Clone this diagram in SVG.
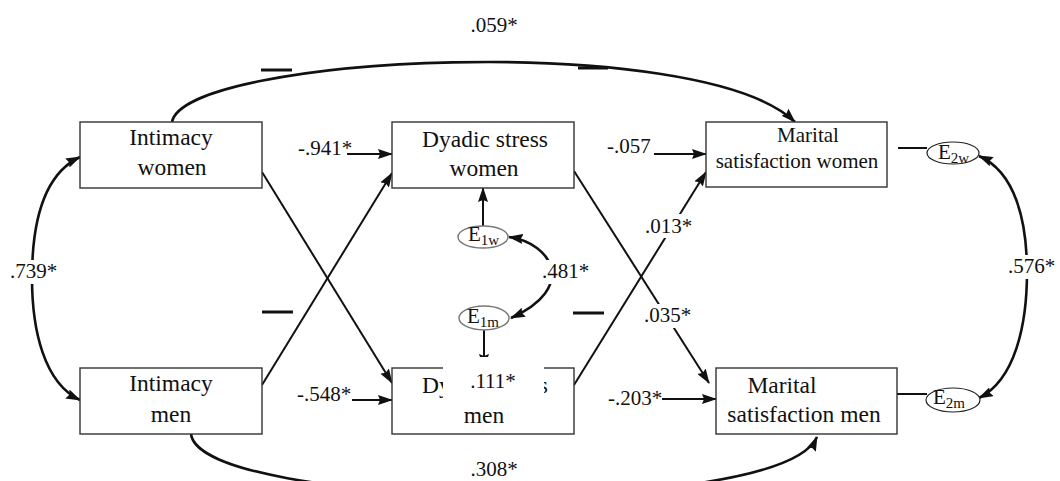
<svg xmlns="http://www.w3.org/2000/svg" width="1060" height="481" viewBox="0 0 1060 481">
  <style>
    .box { fill: #fff; stroke: #333; stroke-width: 1.4; }
    .lbl { font-family: "Liberation Serif", "Times New Roman", serif; font-size: 23.5px; fill: #111; }
    .lbl-s { font-family: "Liberation Serif", "Times New Roman", serif; font-size: 21px; fill: #111; }
    .num { font-family: "Liberation Serif", "Times New Roman", serif; font-size: 21px; fill: #111; }
    .err { fill: #fff; stroke: #222; stroke-width: 1.2; }
    .err-g { fill: #fff; stroke: #777; stroke-width: 1.4; }
    .etxt { font-family: "Liberation Serif", "Times New Roman", serif; font-size: 21px; fill: #111; }
    .sub { font-size: 15px; }
    .ln { fill: none; stroke: #111; stroke-width: 2; }
    .crv { fill: none; stroke: #111; stroke-width: 2.6; }
    .arr { marker-end: url(#ah); }
    .both { marker-start: url(#ah); marker-end: url(#ah); }
    .mask { fill: #fff; stroke: none; }
    .dash { stroke: #111; stroke-width: 3; }
  </style>
  <defs>
    <marker id="ah" viewBox="0 0 15 10" markerUnits="userSpaceOnUse" markerWidth="15" markerHeight="10" refX="14" refY="5" orient="auto-start-reverse">
      <path d="M0,0 L15,5 L0,10 L2,5 Z" fill="#111"/>
    </marker>
  </defs>

  <rect width="1060" height="481" fill="#fff"/>

  <!-- connectors -->
  <g id="connectors">
    <!-- intimacy women -> marital satisfaction women (over the top) -->
    <path class="crv arr" d="M172,122 C185,55 700,30 795,122"/>
    <!-- intimacy men -> marital satisfaction men (under the bottom) -->
    <path class="crv arr" d="M191,434 C200,510 780,520 817,437"/>
    <!-- covariance of the two intimacy scores -->
    <path class="crv both" d="M80,157 C42,175 32,225 32,278 C32,330 44,383 80,400"/>
    <!-- covariance of the marital satisfaction residuals -->
    <path class="crv both" d="M979,156 C1015,172 1027,220 1027,272 C1027,325 1015,380 979,398"/>
    <!-- covariance of the dyadic stress residuals -->
    <path class="crv both" d="M509,237 C552,243 578,288 511,318"/>

    <!-- actor effects -->
    <path class="ln arr" d="M347,154 L392,154"/>
    <path class="ln arr" d="M352,400 L392,400"/>
    <path class="ln arr" d="M654,154 L706,154"/>
    <path class="ln arr" d="M662,399 L716,399"/>
    <!-- partner effects -->
    <path class="ln arr" d="M262,172 L392,383"/>
    <path class="ln arr" d="M262,385 L392,173"/>
    <path class="ln arr" d="M574,171 L709,383"/>
    <path class="ln arr" d="M574,385 L706,172"/>
    <!-- residuals -->
    <path class="ln arr" d="M483,226 L483,188"/>
    <path class="ln arr" d="M484,330 L484,368"/>
    <path class="ln" d="M898,148 L927,148"/>
    <path class="ln" d="M897,394 L927,394"/>

    <!-- short bars -->
    <line class="dash" x1="261" y1="70" x2="292" y2="70"/>
    <line class="dash" x1="578" y1="68" x2="608" y2="68"/>
    <line class="dash" x1="262" y1="312" x2="293" y2="312"/>
    <line class="dash" x1="573" y1="313" x2="604" y2="313"/>
  </g>

  <!-- nodes -->
  <g id="intimacy-women">
    <rect class="box" x="80" y="122" width="182" height="66"/>
    <text class="lbl" x="171" y="145" text-anchor="middle">Intimacy</text>
    <text class="lbl" x="172" y="175" text-anchor="middle">women</text>
  </g>
  <g id="intimacy-men">
    <rect class="box" x="80" y="368" width="182" height="66"/>
    <text class="lbl" x="171" y="391" text-anchor="middle">Intimacy</text>
    <text class="lbl" x="171" y="422" text-anchor="middle">men</text>
  </g>
  <g id="dyadic-stress-women">
    <rect class="box" x="392" y="122" width="182" height="66"/>
    <text class="lbl" x="485" y="147" text-anchor="middle">Dyadic stress</text>
    <text class="lbl" x="484" y="176" text-anchor="middle">women</text>
  </g>
  <g id="dyadic-stress-men">
    <rect class="box" x="392" y="368" width="182" height="66"/>
    <text class="lbl" x="485" y="393" text-anchor="middle">Dyadic stress</text>
    <text class="lbl" x="484" y="423" text-anchor="middle">men</text>
  </g>
  <g id="marital-satisfaction-women">
    <rect class="box" x="706" y="122" width="181" height="65"/>
    <text class="lbl-s" x="808" y="142" text-anchor="middle">Marital</text>
    <text class="lbl-s" x="797" y="168" text-anchor="middle">satisfaction women</text>
  </g>
  <g id="marital-satisfaction-men">
    <rect class="box" x="716" y="368" width="181" height="66"/>
    <text class="lbl" x="782" y="393" text-anchor="middle">Marital</text>
    <text class="lbl" x="804" y="422" text-anchor="middle">satisfaction men</text>
  </g>

  <g id="e1w">
    <ellipse class="err-g" cx="483" cy="237" rx="25" ry="11"/>
    <text class="etxt" x="468" y="241">E<tspan class="sub" dy="4">1w</tspan></text>
  </g>
  <g id="e1m">
    <ellipse class="err-g" cx="484" cy="318" rx="25" ry="12"/>
    <text class="etxt" x="467" y="323">E<tspan class="sub" dy="4">1m</tspan></text>
  </g>
  <g id="e2w">
    <ellipse class="err" cx="953" cy="153" rx="26" ry="11"/>
    <text class="etxt" x="938" y="159">E<tspan class="sub" dy="4">2w</tspan></text>
  </g>
  <g id="e2m">
    <ellipse class="err" cx="953" cy="400" rx="27" ry="12"/>
    <text class="etxt" x="933" y="404">E<tspan class="sub" dy="4">2m</tspan></text>
  </g>

  <!-- path coefficients -->
  <g id="coefficients">
    <text class="num" x="494" y="32" text-anchor="middle">.059*</text>
    <text class="num" x="494" y="476" text-anchor="middle">.308*</text>
    <text class="num" x="298" y="155">-.941*</text>
    <text class="num" x="297" y="401">-.548*</text>
    <text class="num" x="607" y="153">-.057</text>
    <text class="num" x="608" y="405">-.203*</text>

    <rect class="mask" x="643" y="214" width="51" height="24"/>
    <text class="num" x="645" y="233">.013*</text>
    <rect class="mask" x="642" y="304" width="51" height="24"/>
    <text class="num" x="644" y="322">.035*</text>
    <rect class="mask" x="540" y="260" width="49" height="24"/>
    <text class="num" x="542" y="278">.481*</text>
    <rect class="mask" x="8" y="260" width="56" height="24"/>
    <text class="num" x="10" y="278">.739*</text>
    <rect class="mask" x="1006" y="255" width="52" height="24"/>
    <text class="num" x="1008" y="273">.576*</text>
    <rect class="mask" x="443" y="357" width="101" height="42"/>
    <text class="num" x="493" y="388" text-anchor="middle">.111*</text>
  </g>
</svg>
